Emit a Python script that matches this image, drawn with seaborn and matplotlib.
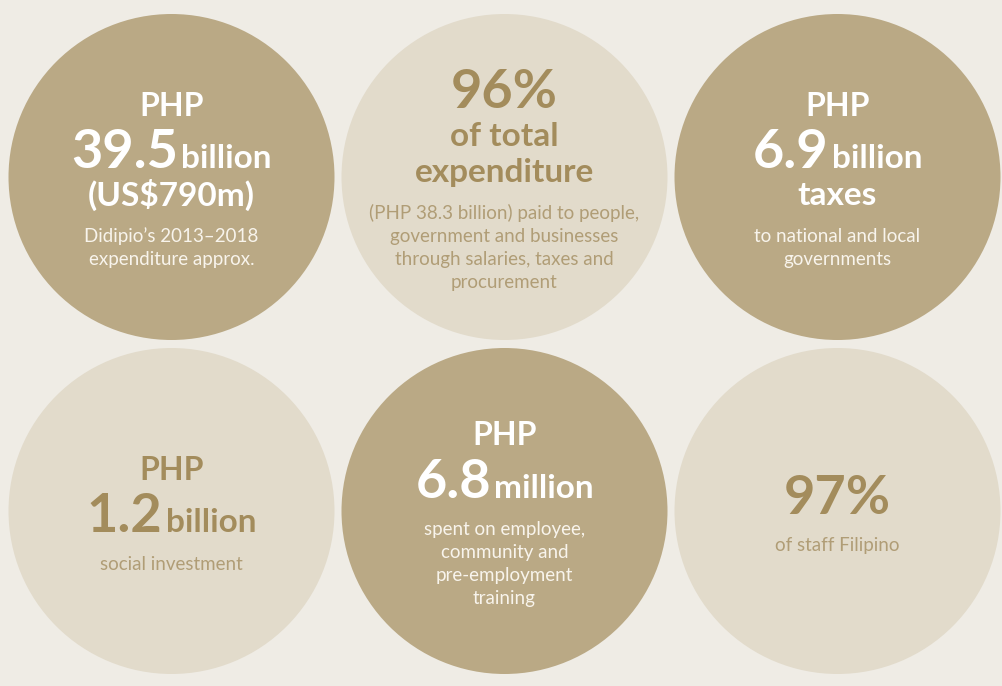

# Didipio expenditure highlights - six circle infographic
import numpy as np
import pandas as pd
import matplotlib
matplotlib.use('Agg')
import matplotlib.pyplot as plt
import seaborn as sns

# Data
tones = ['dark', 'light', 'dark', 'light', 'dark', 'light']
prefixes = ['PHP', '', 'PHP', 'PHP', 'PHP', '']
values = ['39.5', '96%', '6.9', '1.2', '6.8', '97%']
units = ['billion', '', 'billion', 'billion', 'million', '']
extras = [['(US$790m)'], ['of total', 'expenditure'], ['taxes'], [], [], []]
notes = [
    ['Didipio\u2019s 2013\u20132018', 'expenditure approx.'],
    ['(PHP 38.3 billion) paid to people,', 'government and businesses',
     'through salaries, taxes and', 'procurement'],
    ['to national and local', 'governments'],
    ['social investment'],
    ['spent on employee,', 'community and', 'pre-employment', 'training'],
    ['of staff Filipino'],
]

# Style
bg = '#EFECE5'
circle_colors = {'dark': '#BAA985', 'light': '#E2DBCB'}
bold_colors = {'dark': '#FFFFFF', 'light': '#A38C5C'}
note_colors = {'dark': '#F8F4EC', 'light': '#B09D76'}
sizes = {'prefix': 23, 'value': 39, 'unit': 24, 'extra': 24, 'note': 13.5}
caps = {'prefix': 23, 'value': 39, 'extra': 23, 'note': 13}
steps = {'value': 53, 'extra': 37, 'note_first': 37, 'note': 23}

W, H, DPI = 1002, 686, 100
col_gap, row_gap = 333, 334
x0, y0 = 171.5, 177
diameter = 326
PT = 72 / DPI

sns.set_theme(style='white')
plt.rcParams['font.family'] = ['Lato', 'DejaVu Sans']

fig, ax = plt.subplots(figsize=(W / DPI, H / DPI), dpi=DPI)
fig.subplots_adjust(0, 0, 1, 1)
fig.patch.set_facecolor(bg)
ax.set_facecolor(bg)

df = pd.DataFrame({
    'col': [i % 3 for i in range(len(tones))],
    'row': [i // 3 for i in range(len(tones))],
    'tone': tones,
})
sns.scatterplot(data=df, x='col', y='row', hue='tone', palette=circle_colors,
                s=(diameter * PT) ** 2, linewidth=0, legend=False, ax=ax)
ax.set_xlim(-x0 / col_gap, (W - x0) / col_gap)
ax.set_ylim((H - y0) / row_gap, -y0 / row_gap)
ax.set_axis_off()

renderer = fig.canvas.get_renderer()
for i, r in df.iterrows():
    tone = r['tone']
    xy = (r['col'], r['row'])
    # build line stack: (kind, text)
    lines = []
    if prefixes[i]:
        lines.append(('prefix', prefixes[i]))
    lines.append(('value', values[i]))
    for e in extras[i]:
        lines.append(('extra', e))
    for n in notes[i]:
        lines.append(('note', n))
    base = []
    y = 0
    prev = None
    for kind, _ in lines:
        if prev is not None:
            if kind == 'note':
                y += steps['note'] if prev == 'note' else steps['note_first']
            else:
                y += steps[kind]
        base.append(y)
        prev = kind
    top = base[0] - caps[lines[0][0]]
    bottom = base[-1] + 4
    shift = 4 - (top + bottom) / 2

    for (kind, text), b in zip(lines, base):
        dy = -(b + shift) * PT
        color = note_colors[tone] if kind == 'note' else bold_colors[tone]
        weight = 'normal' if kind == 'note' else 'bold'
        if kind == 'value' and units[i]:
            t1 = ax.annotate(text, xy, xytext=(0, dy), textcoords='offset points',
                             ha='left', va='baseline', fontsize=sizes['value'],
                             fontweight='bold', color=color)
            t2 = ax.annotate(units[i], xy, xytext=(0, dy), textcoords='offset points',
                             ha='left', va='baseline', fontsize=sizes['unit'],
                             fontweight='bold', color=color)
            w1 = t1.get_window_extent(renderer).width
            w2 = t2.get_window_extent(renderer).width
            gap = 3
            left = -(w1 + gap + w2) / 2
            t1.xyann = (left * PT, dy)
            t2.xyann = ((left + w1 + gap) * PT, dy)
        else:
            ax.annotate(text, xy, xytext=(0, dy), textcoords='offset points',
                        ha='center', va='baseline', fontsize=sizes[kind],
                        fontweight=weight, color=color)

fig.savefig('out.png', dpi=DPI, facecolor=bg)
